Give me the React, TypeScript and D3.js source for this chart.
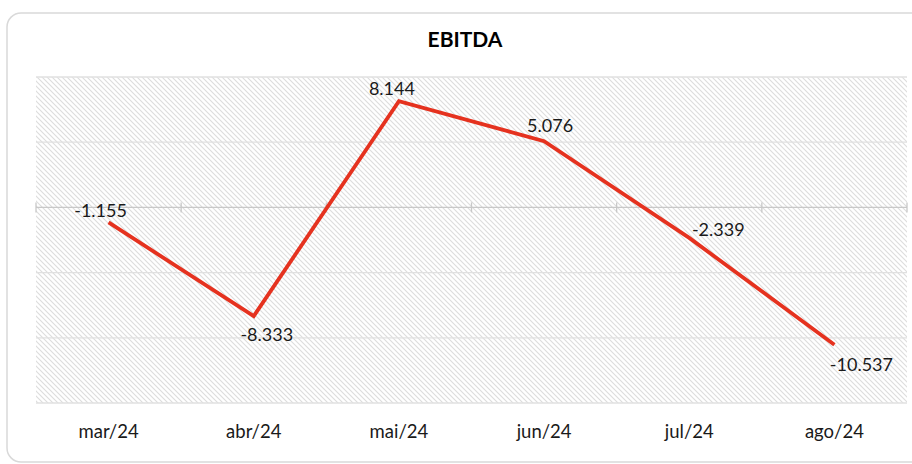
import React from "react";
import * as d3 from "d3";

const categories = ["mar/24", "abr/24", "mai/24", "jun/24", "jul/24", "ago/24"];
const ebitda = [-1.155, -8.333, 8.144, 5.076, -2.339, -10.537];
const yTicks = [-15, -10, -5, 0, 5, 10];
// label placement offsets relative to each point (style)
const labelDx = [-8, 13, -7, 6, 29, 27];
const labelDy = [-12, 18, -13, -16, -9, 19];

const W = 912;
const H = 464;
const left = 36;
const right = 907;
const top = 77;
const bottom = 403;

const fmt = (v: number) => {
  const s = Math.abs(v).toFixed(3);
  return (v < 0 ? "-" : "") + s;
};

export default function App() {
  const x = d3.scalePoint<string>().domain(categories).range([left, right]).padding(0.5);
  const y = d3.scaleLinear().domain([-15, 10]).range([bottom, top]);
  const step = x.step();
  const boundaries = d3.range(categories.length + 1).map((i) => left + i * step);
  const line = d3
    .line<number>()
    .x((_, i) => x(categories[i]) as number)
    .y((d) => y(d));
  const font = "Lato, 'Open Sans', sans-serif";

  return (
    <svg
      width={W}
      height={H}
      style={{ position: "absolute", left: 0, top: 0, background: "#fff" }}
    >
      <defs>
        <pattern id="hatch" width="5" height="5" patternUnits="userSpaceOnUse">
          <rect width="5" height="5" fill="#ffffff" />
          <path d="M-1,-1 L6,6 M-1,4 L1,6 M4,-1 L6,1" stroke="#dddddd" strokeWidth="1.1" />
        </pattern>
      </defs>
      <rect x={7} y={13} width={940} height={449} rx={14} ry={14} fill="#fff" stroke="#d9d9d9" strokeWidth={1.5} />
      <text x={465} y={47} textAnchor="middle" fontFamily={font} fontWeight="bold" fontSize={21} fill="#000">
        EBITDA
      </text>
      <rect x={left} y={top} width={right - left} height={bottom - top} fill="url(#hatch)" />
      {yTicks.map((t) => (
        <line
          key={t}
          x1={left}
          x2={right}
          y1={y(t)}
          y2={y(t)}
          stroke={t === 0 ? "#c8c8c8" : "#e0e0e0"}
          strokeWidth={1.3}
        />
      ))}
      {boundaries.map((b, i) => (
        <line key={i} x1={b} x2={b} y1={y(0) - 5} y2={y(0) + 5} stroke="#c8c8c8" strokeWidth={1.3} />
      ))}
      <path d={line(ebitda) || ""} fill="none" stroke="#e5321f" strokeWidth={3.8} strokeLinejoin="miter" />
      {ebitda.map((v, i) => (
        <text
          key={i}
          x={(x(categories[i]) as number) + labelDx[i]}
          y={y(v) + labelDy[i]}
          textAnchor="middle"
          dominantBaseline="central"
          fontFamily={font}
          fontSize={18}
          fill="#1a1a1a"
        >
          {fmt(v)}
        </text>
      ))}
      {categories.map((c) => (
        <text key={c} x={x(c) as number} y={438} textAnchor="middle" fontFamily={font} fontSize={18.5} fill="#1a1a1a">
          {c}
        </text>
      ))}
    </svg>
  );
}
